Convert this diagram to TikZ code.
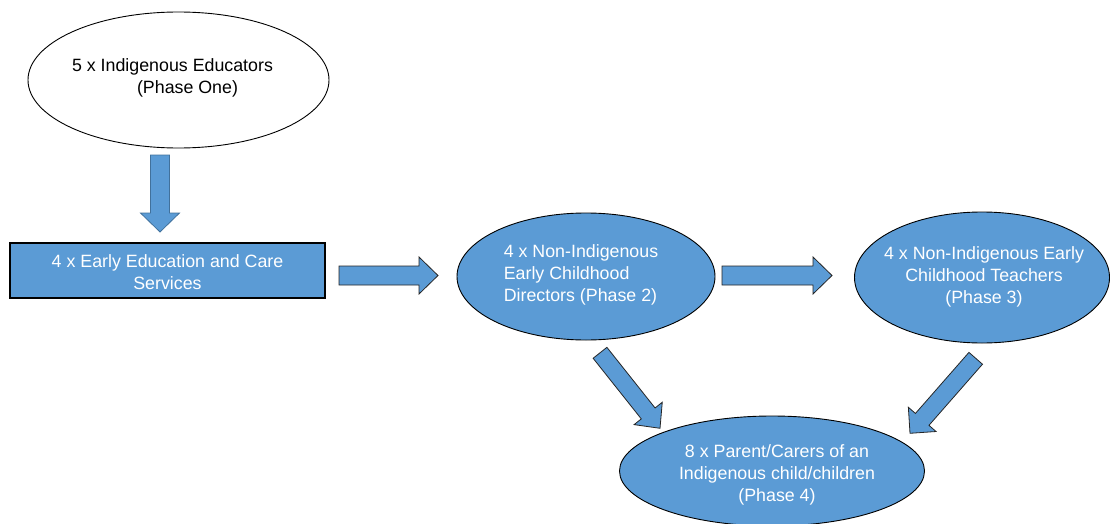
\documentclass[tikz,border=0pt]{standalone}
\usepackage{fontspec}
\setmainfont{Liberation Sans}
\usetikzlibrary{calc,shapes.geometric}
\definecolor{boxblue}{HTML}{5B9BD5}
\definecolor{edgeblue}{HTML}{41719C}

% Block arrow from #2 to #3 with style #1: shaft half-width #4, head half-width #5, head length #6
\newcommand\blockarrow[6][]{%
  \coordinate (bah) at ($(#3)!#6!(#2)$);
  \draw[blockarrowstyle,#1]
    ($(#2)!#4!90:(#3)$) -- ($(bah)!#4!90:(#3)$) -- ($(bah)!#5!90:(#3)$) -- (#3)
    -- ($(bah)!#5!-90:(#3)$) -- ($(bah)!#4!-90:(#3)$) -- ($(#2)!#4!-90:(#3)$) -- cycle;
}

\begin{document}
\begin{tikzpicture}[x=1pt,y=-1pt,
  every node/.style={font=\fontsize{17.8}{22}\selectfont},
  phase/.style={ellipse,draw=black,line width=0.9pt,fill=boxblue,inner sep=0pt},
  startphase/.style={ellipse,draw=black,line width=0.9pt,fill=white,inner sep=0pt},
  servicebox/.style={rectangle,draw=black,line width=1.4pt,fill=boxblue,inner sep=0pt},
  lighttext/.style={text=white,align=center,inner sep=0pt},
  darktext/.style={text=black,align=left,inner sep=0pt},
  blockarrowstyle/.style={fill=boxblue,draw=black!85,line width=0.8pt,line join=miter}]
\useasboundingbox (0,0) rectangle (1110,524);

% phase shapes
\node[startphase,minimum width=301pt,minimum height=136pt] (edu) at (178.5,80) {};
\node[servicebox,minimum width=315pt,minimum height=55pt] (svc) at (167.5,270.5) {};
\node[phase,minimum width=258pt,minimum height=127pt] (dir) at (586,276.5) {};
\node[phase,minimum width=255pt,minimum height=131pt] (tea) at (982,277.5) {};
\node[phase,minimum width=305pt,minimum height=110pt] (par) at (772,471) {};

% phase texts
\node[darktext] (edutext) at ($(edu)+(-6,-2)$)
  {5 x Indigenous Educators\\\hspace*{65pt}(Phase One)};
\node[lighttext] (svctext) at ($(svc)+(0,2)$)
  {4 x Early Education and Care\\Services};
\node[lighttext,align=left] (dirtext) at ($(dir)+(-5,-2)$)
  {4 x Non-Indigenous\\Early Childhood\\Directors (Phase 2)};
\node[lighttext] (teatext) at ($(tea)+(2,-1)$)
  {4 x Non-Indigenous Early\\Childhood Teachers\\(Phase 3)};
\node[lighttext] (partext) at ($(par)+(5,4)$)
  {8 x Parent/Carers of an\\Indigenous child/children\\(Phase 4)};

% arrow end points
\coordinate (a1s) at (160,155);   \coordinate (a1e) at (160,232);
\coordinate (a2s) at (339,275.5); \coordinate (a2e) at (438,275.5);
\coordinate (a3s) at (722,275.5); \coordinate (a3e) at (832,275.5);
\coordinate (a4s) at (600,352.8); \coordinate (a4e) at (660,428.3);
\coordinate (a5s) at (975.7,358.3); \coordinate (a5e) at (910,433.3);

\blockarrow[draw=edgeblue]{a1s}{a1e}{9.5pt}{19.5pt}{19pt}
\blockarrow{a2s}{a2e}{9.5pt}{18.5pt}{19pt}
\blockarrow{a3s}{a3e}{9.5pt}{18.5pt}{19pt}
\blockarrow{a4s}{a4e}{8.8pt}{18pt}{19pt}
\blockarrow{a5s}{a5e}{9pt}{18.4pt}{18.5pt}
\end{tikzpicture}
\end{document}
